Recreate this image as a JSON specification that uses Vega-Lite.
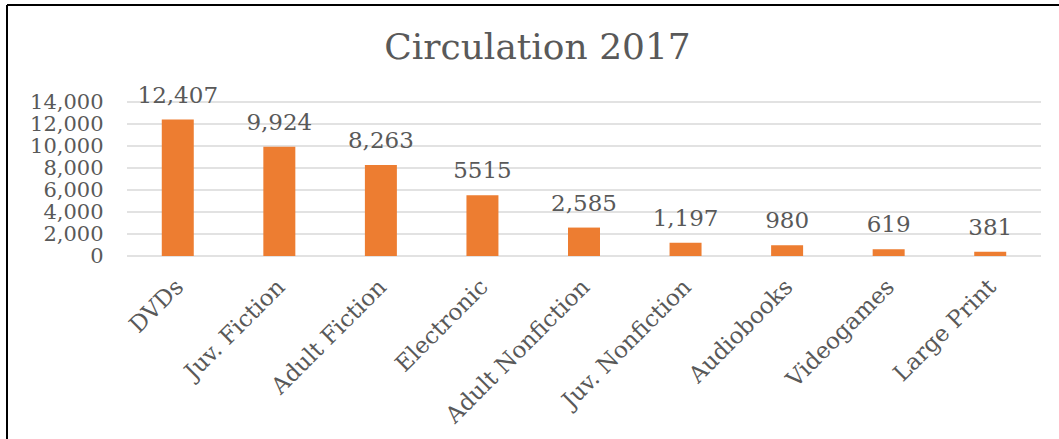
{
  "$schema": "https://vega.github.io/schema/vega-lite/v6.json",
  "width": 1052,
  "height": 434,
  "autosize": "none",
  "padding": {"left": 7, "top": 5, "right": 0, "bottom": 0},
  "background": "white",
  "config": {"view": {"stroke": "#000000", "strokeWidth": 2, "strokeDash": [1052, 1486, 434, 0]}, "font": "DejaVu Serif"},
  "title": {"text": "Circulation 2017", "font": "DejaVu Serif", "fontSize": 36, "fontWeight": "normal", "color": "#595959", "anchor": "middle", "frame": "group", "offset": 0, "dy": 62, "dx": 4.5},
  "datasets": {
    "circ": [
      {"cat": "DVDs", "v": 12407, "label": "12,407"},
      {"cat": "Juv. Fiction", "v": 9924, "label": "9,924"},
      {"cat": "Adult Fiction", "v": 8263, "label": "8,263"},
      {"cat": "Electronic", "v": 5515, "label": "5515"},
      {"cat": "Adult Nonfiction", "v": 2585, "label": "2,585"},
      {"cat": "Juv. Nonfiction", "v": 1197, "label": "1,197"},
      {"cat": "Audiobooks", "v": 980, "label": "980"},
      {"cat": "Videogames", "v": 619, "label": "619"},
      {"cat": "Large Print", "v": 381, "label": "381"}
    ],
    "grid": [
      {"g": 0}, {"g": 2000}, {"g": 4000}, {"g": 6000}, {"g": 8000}, {"g": 10000}, {"g": 12000}, {"g": 14000}
    ]
  },
  "layer": [
    {
      "data": {"name": "grid"},
      "mark": {"type": "rule", "color": "#D9D9D9", "strokeWidth": 1.5},
      "encoding": {
        "y": {"field": "g", "type": "quantitative", "scale": {"domain": [-16636.3, 22818.2], "nice": false, "zero": false}, "axis": null},
        "x": {"datum": 0, "type": "quantitative", "scale": {"domain": [-0.131291, 1.019694], "nice": false, "zero": false}, "axis": null},
        "x2": {"datum": 1}
      }
    },
    {
      "data": {"name": "circ"},
      "encoding": {
        "x": {
          "field": "cat", "type": "nominal", "sort": null,
          "scale": {"type": "band", "range": [120, 1034], "paddingInner": 0.685, "paddingOuter": 0.3425},
          "axis": {"orient": "bottom", "offset": -183, "title": null, "domain": false, "ticks": false, "labelAngle": -45, "labelAlign": "right", "labelBaseline": "middle", "labelPadding": 27, "labelOffset": 2, "labelFontSize": 23, "labelLimit": 400, "labelFont": "DejaVu Serif", "labelColor": "#595959", "labelOverlap": false}
        },
        "y": {
          "field": "v", "type": "quantitative",
          "scale": {"domain": [-16636.3, 22818.2], "nice": false, "zero": false},
          "axis": {"orient": "left", "offset": -98, "title": null, "domain": false, "ticks": false, "grid": false, "values": [0, 2000, 4000, 6000, 8000, 10000, 12000, 14000], "format": ",.0f", "labelPadding": 2, "labelFontSize": 21, "labelFont": "DejaVu Serif", "labelColor": "#595959", "labelOverlap": false}
        }
      },
      "layer": [
        {
          "mark": {"type": "bar", "color": "#ED7D31"},
          "encoding": {"y2": {"datum": 0}}
        },
        {
          "mark": {"type": "text", "baseline": "alphabetic", "align": "center", "dy": -17, "fontSize": 23, "font": "DejaVu Serif", "color": "#595959"},
          "encoding": {"text": {"field": "label"}}
        }
      ]
    }
  ],
  "resolve": {"scale": {"x": "independent", "y": "independent"}}
}
